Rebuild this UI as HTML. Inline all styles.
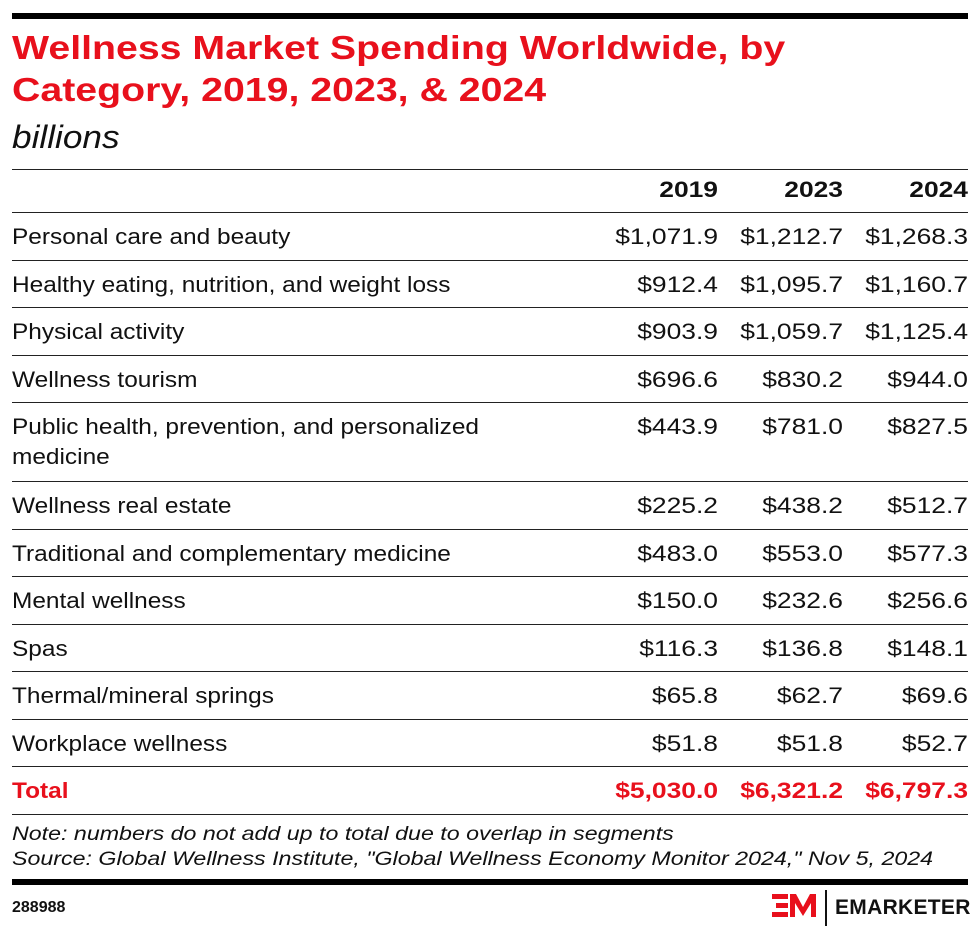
<!DOCTYPE html>
<html><head><meta charset="utf-8"><style>
body{margin:0;width:980px;height:932px;background:#fff;font-family:"Liberation Sans",sans-serif;color:#111;position:relative;overflow:hidden}
.a{position:absolute;white-space:nowrap}
.bar{position:absolute;left:12px;width:956px;background:#000}
.ln{position:absolute;left:12px;width:956px;height:1px;background:#222}
.r{position:absolute;font-size:22px;line-height:30px;transform:scaleX(1.11);transform-origin:left top;white-space:nowrap}
.v{position:absolute;text-align:right;font-size:22px;line-height:26px;transform:scaleX(1.2);transform-origin:right top}
.t{color:#e8101c;font-weight:bold}
</style></head><body>
<div class="bar" style="top:13px;height:6px"></div>
<div class="a t" style="left:12px;top:27px;font-size:33px;line-height:42px;transform:scaleX(1.19);transform-origin:left top">Wellness Market Spending Worldwide, by<br>Category, 2019, 2023, &amp; 2024</div>
<div class="a" style="left:12px;top:117px;font-size:32px;font-style:italic;line-height:40px;transform:scaleX(1.1);transform-origin:left top">billions</div>
<div class="ln" style="top:169px"></div>
<div class="v" style="left:560px;width:158px;top:177px;font-weight:bold">2019</div>
<div class="v" style="left:690px;width:153px;top:177px;font-weight:bold">2023</div>
<div class="v" style="left:810px;width:158px;top:177px;font-weight:bold">2024</div>
<div class="ln" style="top:212px"></div>
<div id="rows"></div>
<script>
const d=[["Personal care and beauty","$1,071.9","$1,212.7","$1,268.3"],
["Healthy eating, nutrition, and weight loss","$912.4","$1,095.7","$1,160.7"],
["Physical activity","$903.9","$1,059.7","$1,125.4"],
["Wellness tourism","$696.6","$830.2","$944.0"],
["Public health, prevention, and personalized<br>medicine","$443.9","$781.0","$827.5"],
["Wellness real estate","$225.2","$438.2","$512.7"],
["Traditional and complementary medicine","$483.0","$553.0","$577.3"],
["Mental wellness","$150.0","$232.6","$256.6"],
["Spas","$116.3","$136.8","$148.1"],
["Thermal/mineral springs","$65.8","$62.7","$69.6"],
["Workplace wellness","$51.8","$51.8","$52.7"],
["Total","$5,030.0","$6,321.2","$6,797.3"]];
let y=212,h="";
d.forEach((r,i)=>{let ht=r[0].includes("<br>")?79:47.5;let ty=Math.round(y)+12;let c=i==11?" t":"";
h+=`<div class="r${c}" style="left:12px;top:${ty-2}px">${r[0]}</div>`;
h+=`<div class="v${c}" style="left:560px;width:158px;top:${ty}px">${r[1]}</div>`;
h+=`<div class="v${c}" style="left:690px;width:153px;top:${ty}px">${r[2]}</div>`;
h+=`<div class="v${c}" style="left:810px;width:158px;top:${ty}px">${r[3]}</div>`;
y+=ht;h+=`<div class="ln" style="top:${Math.round(y)}px"></div>`;});
document.getElementById("rows").innerHTML=h;
</script>
<div class="a" style="left:12px;top:822px;font-size:19.5px;font-style:italic;line-height:25px;transform:scaleX(1.19);transform-origin:left top">Note: numbers do not add up to total due to overlap in segments<br>Source: Global Wellness Institute, "Global Wellness Economy Monitor 2024," Nov 5, 2024</div>
<div class="bar" style="top:879px;height:6px"></div>
<div class="a" style="left:12px;top:899px;font-size:16px;font-weight:bold">288988</div>
<svg class="a" style="left:772px;top:890px" width="60" height="36" viewBox="0 0 60 36">
<rect x="0" y="4" width="16" height="5" fill="#e8101c"/><rect x="4" y="13" width="12" height="5" fill="#e8101c"/><rect x="0" y="22" width="16" height="5" fill="#e8101c"/>
<polygon points="18,27 18,4 24,4 31,17 38,4 44,4 44,27 39,27 39,13 31,26 23,13 23,27" fill="#e8101c"/>
<rect x="53" y="0" width="2" height="36" fill="#111"/></svg>
<div class="a" style="left:835px;top:896px;font-size:21px;font-weight:bold;letter-spacing:0.3px">EMARKETER</div>
</body></html>
